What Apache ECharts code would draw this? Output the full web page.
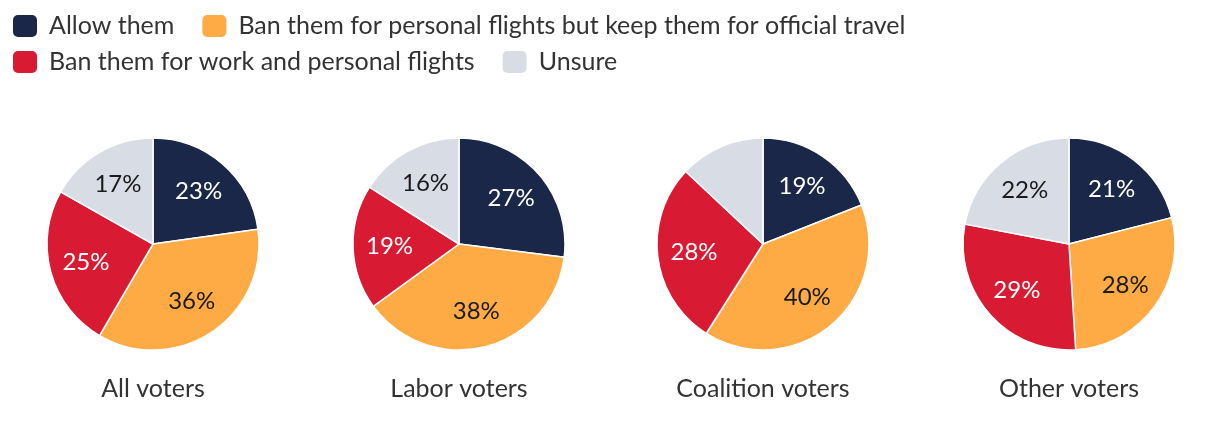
<!DOCTYPE html>
<html><head><meta charset="utf-8">
<script src="https://cdn.jsdelivr.net/npm/echarts@6/dist/echarts.min.js"></script>
<style>html,body{margin:0;padding:0;background:#fff}#c{width:1220px;height:438px}</style>
</head><body><div id="c"></div>
<script>
const categories = ["Allow them","Ban them for personal flights but keep them for official travel","Ban them for work and personal flights","Unsure"];
const groups = ["All voters","Labor voters","Coalition voters","Other voters"];
const allVoters = [23,36,25,17];
const laborVoters = [27,38,19,16];
const coalitionVoters = [19,40,28,13];
const otherVoters = [21,28,29,22];
const hiddenLabels = [[],[],[3],[]];
const colors = ["#1b2748","#ffab45","#d91a33","#d8dce4"];
const labelColors = ["#ffffff","#1a1a1a","#ffffff","#1a1a1a"];
const FONT = "Lato, 'Open Sans', sans-serif";
const values = [allVoters,laborVoters,coalitionVoters,otherVoters];
const centersX = [153,459,763,1069];
const cy = 244, R = 106;

const series = [];
const titles = [];
values.forEach((vals,gi)=>{
  series.push({
    type:'pie', center:[centersX[gi],cy], radius:[0,R], startAngle:90, clockwise:true,
    silent:true, label:{show:false}, labelLine:{show:false},
    itemStyle:{borderColor:'#fff',borderWidth:1.5},
    data: vals.map((v,i)=>({name:categories[i],value:v,itemStyle:{color:colors[i]}}))
  });
  series.push({
    type:'pie', center:[centersX[gi],cy], radius:[27,R], startAngle:90, clockwise:true,
    silent:true, labelLine:{show:false},
    itemStyle:{color:'transparent',borderWidth:0},
    label:{position:'inside',fontFamily:FONT,fontSize:24,formatter:'{c}%'},
    data: vals.map((v,i)=>({name:categories[i],value:v,
      label:{show:hiddenLabels[gi].indexOf(i)<0,color:labelColors[i]}}))
  });
  titles.push({text:groups[gi],left:centersX[gi],top:376,padding:0,textAlign:'center',
    textStyle:{fontFamily:FONT,fontSize:25,fontWeight:'normal',color:'#333'}});
});

const legendBase = {
  left:11, padding:0, icon:'roundRect', itemWidth:26, itemHeight:24, itemGap:26,
  selectedMode:false,
  textStyle:{fontFamily:FONT,fontSize:25,color:'#333',padding:[0,0,0,6]}
};
const chart = echarts.init(document.getElementById('c'));
chart.setOption({
  animation:false,
  title:titles,
  legend:[
    Object.assign({},legendBase,{top:13,data:[categories[0],categories[1]]}),
    Object.assign({},legendBase,{top:49,data:[categories[2],categories[3]]})
  ],
  series:series
});
</script></body></html>
